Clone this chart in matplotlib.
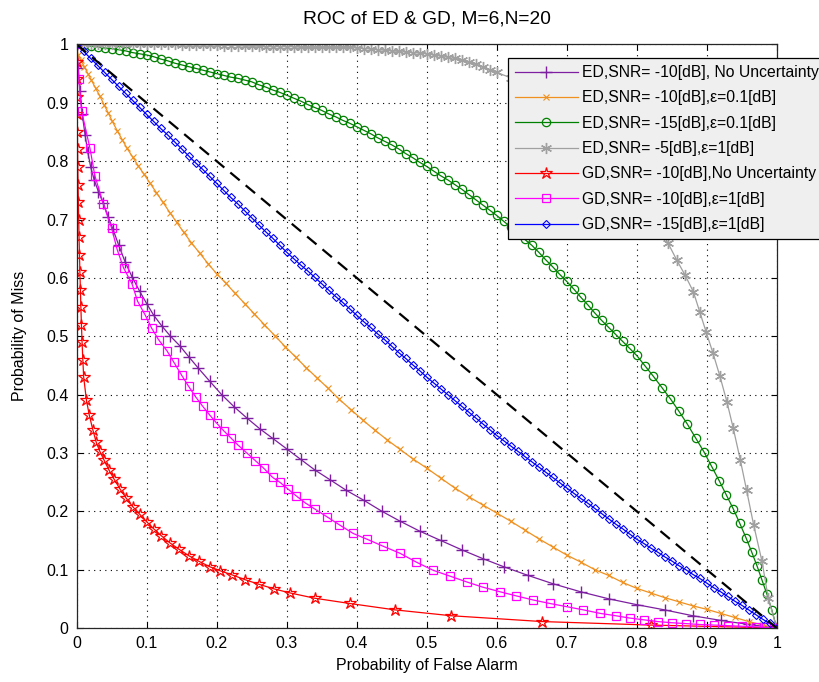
import matplotlib
matplotlib.use("Agg")
import matplotlib.pyplot as plt

plt.rcParams['font.family'] = ['Liberation Sans', 'DejaVu Sans']
plt.rcParams['font.size'] = 11.5

title = "ROC of ED & GD, M=6,N=20"
xlabel = "Probability of False Alarm"
ylabel = "Probability of Miss"
ticks = [0, 0.1, 0.2, 0.3, 0.4, 0.5, 0.6, 0.7, 0.8, 0.9, 1]
tick_labels = ["0", "0.1", "0.2", "0.3", "0.4", "0.5", "0.6", "0.7", "0.8", "0.9", "1"]

labels = [
    "ED,SNR= -10[dB], No Uncertainty",
    "ED,SNR= -10[dB],\u03b5=0.1[dB]",
    "ED,SNR= -15[dB],\u03b5=0.1[dB]",
    "ED,SNR= -5[dB],\u03b5=1[dB]",
    "GD,SNR= -10[dB],No Uncertainty",
    "GD,SNR= -10[dB],\u03b5=1[dB]",
    "GD,SNR= -15[dB],\u03b5=1[dB]",
]

# ED, SNR=-10 dB, no uncertainty (purple +)
ed1_pfa = [0, 0.002, 0.005, 0.008, 0.012, 0.016, 0.02, 0.025, 0.031, 0.038, 0.045, 0.052, 0.06,
           0.069, 0.079, 0.09, 0.1, 0.11, 0.122, 0.134, 0.147, 0.16, 0.174, 0.19, 0.207, 0.225,
           0.243, 0.262, 0.28, 0.3, 0.32, 0.34, 0.362, 0.385, 0.41, 0.436, 0.462, 0.49, 0.52,
           0.55, 0.58, 0.61, 0.645, 0.68, 0.72, 0.76, 0.8, 0.84, 0.88, 0.92, 0.96, 1]
ed1_pm = [1, 0.96, 0.92, 0.88, 0.845, 0.815, 0.79, 0.768, 0.748, 0.728, 0.705, 0.683, 0.656,
          0.628, 0.602, 0.577, 0.556, 0.536, 0.517, 0.5, 0.484, 0.465, 0.445, 0.423, 0.4, 0.379,
          0.36, 0.341, 0.325, 0.307, 0.289, 0.271, 0.254, 0.236, 0.219, 0.2, 0.183, 0.166, 0.15,
          0.134, 0.119, 0.105, 0.09, 0.076, 0.062, 0.05, 0.04, 0.031, 0.021, 0.013, 0.006, 0]

# ED, SNR=-10 dB, eps=0.1 dB (orange x)
ed2_pfa = [0, 0.002, 0.006, 0.011, 0.016, 0.021, 0.027, 0.033, 0.039, 0.045, 0.051, 0.058, 0.065,
           0.072, 0.08, 0.088, 0.096, 0.105, 0.114, 0.123, 0.133, 0.143, 0.153, 0.164, 0.176,
           0.188, 0.2, 0.213, 0.226, 0.24, 0.254, 0.268, 0.283, 0.298, 0.313, 0.328, 0.343, 0.359,
           0.375, 0.392, 0.409, 0.426, 0.444, 0.462, 0.48, 0.5, 0.52, 0.54, 0.56, 0.58, 0.6, 0.62,
           0.64, 0.66, 0.68, 0.7, 0.72, 0.74, 0.76, 0.78, 0.8, 0.82, 0.84, 0.86, 0.88, 0.9, 0.92,
           0.94, 0.96, 0.98, 1]
ed2_pm = [1, 0.982, 0.973, 0.962, 0.95, 0.939, 0.925, 0.912, 0.897, 0.883, 0.868, 0.852, 0.837,
          0.822, 0.807, 0.792, 0.778, 0.762, 0.746, 0.73, 0.712, 0.695, 0.678, 0.66, 0.642,
          0.624, 0.607, 0.591, 0.574, 0.556, 0.538, 0.52, 0.501, 0.482, 0.464, 0.446, 0.429, 0.411,
          0.392, 0.374, 0.356, 0.339, 0.322, 0.306, 0.29, 0.274, 0.257, 0.24, 0.225, 0.211, 0.197,
          0.183, 0.168, 0.153, 0.139, 0.125, 0.113, 0.1, 0.09, 0.078, 0.068, 0.06, 0.052, 0.045,
          0.038, 0.032, 0.025, 0.018, 0.011, 0.005, 0]

# ED, SNR=-15 dB, eps=0.1 dB (green o)
ed3_pfa = [0, 0.01, 0.02, 0.03, 0.04, 0.05, 0.06, 0.07, 0.08, 0.09,
           0.1, 0.11, 0.12, 0.13, 0.14, 0.15, 0.16, 0.17, 0.18, 0.19,
           0.2, 0.21, 0.22, 0.23, 0.24, 0.25, 0.26, 0.27, 0.28, 0.29,
           0.3, 0.31, 0.32, 0.33, 0.34, 0.35, 0.36, 0.37, 0.38, 0.39,
           0.4, 0.41, 0.42, 0.43, 0.44, 0.45, 0.46, 0.47, 0.48, 0.49,
           0.5, 0.51, 0.52, 0.53, 0.54, 0.55, 0.56, 0.57, 0.58, 0.59,
           0.6, 0.61, 0.62, 0.63, 0.64, 0.65, 0.66, 0.67, 0.68, 0.69,
           0.7, 0.71, 0.72, 0.73, 0.74, 0.75, 0.76, 0.77, 0.78, 0.79,
           0.8, 0.812, 0.824, 0.836, 0.848, 0.86, 0.872, 0.884, 0.896, 0.907,
           0.918, 0.928, 0.938, 0.947, 0.956, 0.964, 0.972, 0.979, 0.986, 0.993, 1]
ed3_pm = [1, 0.999, 0.997, 0.996, 0.994, 0.993, 0.991, 0.989, 0.986, 0.984,
          0.982, 0.979, 0.975, 0.972, 0.968, 0.965, 0.962, 0.959, 0.956, 0.953,
          0.95, 0.947, 0.944, 0.942, 0.939, 0.936, 0.931, 0.927, 0.922, 0.918,
          0.913, 0.908, 0.903, 0.897, 0.892, 0.887, 0.881, 0.876, 0.87, 0.865,
          0.859, 0.853, 0.847, 0.84, 0.834, 0.828, 0.821, 0.813, 0.806, 0.798,
          0.791, 0.783, 0.775, 0.768, 0.76, 0.752, 0.743, 0.734, 0.725, 0.716,
          0.707, 0.697, 0.687, 0.676, 0.666, 0.656, 0.644, 0.631, 0.619, 0.606,
          0.594, 0.581, 0.567, 0.554, 0.54, 0.527, 0.515, 0.503, 0.491, 0.479,
          0.467, 0.449, 0.431, 0.412, 0.393, 0.372, 0.35, 0.326, 0.302, 0.277,
          0.252, 0.228, 0.204, 0.18, 0.155, 0.131, 0.106, 0.082, 0.058, 0.031, 0]

# ED, SNR=-5 dB, eps=1 dB (grey *)
ed4_pfa = [0, 0.01, 0.02, 0.03, 0.04, 0.05, 0.06, 0.07, 0.08, 0.09,
           0.1, 0.11, 0.12, 0.13, 0.14, 0.15, 0.16, 0.17, 0.18, 0.19,
           0.2, 0.21, 0.22, 0.23, 0.24, 0.25, 0.26, 0.27, 0.28, 0.29,
           0.3, 0.31, 0.32, 0.33, 0.34, 0.35, 0.36, 0.37, 0.38, 0.39,
           0.4, 0.41, 0.42, 0.43, 0.44, 0.45, 0.46, 0.47, 0.48, 0.49,
           0.5, 0.51, 0.52, 0.53, 0.54, 0.55, 0.56, 0.57, 0.58, 0.59,
           0.6, 0.62, 0.65, 0.68, 0.71, 0.74, 0.77, 0.8, 0.83, 0.845,
           0.857, 0.869, 0.881, 0.89, 0.899, 0.909, 0.919, 0.929, 0.938, 0.948,
           0.957, 0.967, 0.979, 0.988, 1]
ed4_pm = [1, 1, 1, 1, 1, 1, 1, 1, 1, 1,
          1, 1, 1, 1, 1, 0.999, 0.999, 0.999, 0.999, 0.999,
          0.999, 0.998, 0.998, 0.998, 0.997, 0.997, 0.997, 0.996, 0.996, 0.996,
          0.996, 0.996, 0.995, 0.995, 0.995, 0.995, 0.995, 0.995, 0.995, 0.995,
          0.994, 0.993, 0.992, 0.991, 0.99, 0.989, 0.988, 0.987, 0.986, 0.985,
          0.984, 0.982, 0.98, 0.978, 0.976, 0.973, 0.97, 0.966, 0.962, 0.957,
          0.952, 0.943, 0.925, 0.904, 0.875, 0.84, 0.8, 0.745, 0.688, 0.659,
          0.631, 0.605, 0.576, 0.542, 0.508, 0.471, 0.431, 0.387, 0.342, 0.288,
          0.236, 0.177, 0.114, 0.051, 0]

# GD, SNR=-10 dB, no uncertainty (red pentagram)
gd1_pfa = [0, 0.0002, 0.0004, 0.0006, 0.0008, 0.001, 0.0013, 0.0016, 0.002, 0.0024, 0.0029,
           0.0034, 0.004, 0.0046, 0.0053, 0.006, 0.0068, 0.0077, 0.0088, 0.01, 0.014, 0.018,
           0.023, 0.028, 0.033, 0.039, 0.046, 0.053, 0.062, 0.071, 0.08, 0.09, 0.1, 0.11, 0.121,
           0.133, 0.146, 0.16, 0.175, 0.19, 0.205, 0.222, 0.24, 0.26, 0.282, 0.305, 0.34, 0.39,
           0.455, 0.535, 0.665, 0.82, 1]
gd1_pm = [1, 0.97, 0.94, 0.91, 0.88, 0.85, 0.82, 0.79, 0.76, 0.73, 0.7, 0.67, 0.64, 0.61, 0.58,
          0.55, 0.52, 0.49, 0.46, 0.43, 0.39, 0.365, 0.34, 0.318, 0.303, 0.288, 0.271, 0.256,
          0.238, 0.222, 0.208, 0.195, 0.182, 0.17, 0.158, 0.146, 0.135, 0.124, 0.114, 0.105,
          0.098, 0.091, 0.083, 0.075, 0.067, 0.06, 0.051, 0.042, 0.031, 0.021, 0.011, 0.005, 0]

# GD, SNR=-10 dB, eps=1 dB (magenta squares)
gd2_pfa = [0, 0.003, 0.007, 0.019, 0.026, 0.038, 0.05, 0.058, 0.067, 0.079, 0.087, 0.098, 0.107,
           0.117, 0.129, 0.139, 0.15, 0.16, 0.17, 0.18, 0.19, 0.2, 0.21, 0.22, 0.23, 0.243, 0.255,
           0.267, 0.28, 0.29, 0.302, 0.314, 0.327, 0.34, 0.357, 0.375, 0.395, 0.415, 0.438, 0.462,
           0.485, 0.509, 0.533, 0.557, 0.58, 0.605, 0.628, 0.652, 0.676, 0.7, 0.724, 0.748, 0.77,
           0.79, 0.81, 0.83, 0.85, 0.87, 0.89, 0.91, 0.93, 0.95, 0.97, 0.985, 1]
gd2_pm = [1, 0.94, 0.886, 0.822, 0.775, 0.727, 0.685, 0.648, 0.617, 0.59, 0.56, 0.536, 0.514,
          0.494, 0.475, 0.455, 0.433, 0.414, 0.396, 0.38, 0.365, 0.351, 0.338, 0.326, 0.314, 0.3,
          0.287, 0.274, 0.258, 0.25, 0.238, 0.226, 0.214, 0.204, 0.191, 0.177, 0.162, 0.152, 0.14,
          0.128, 0.113, 0.099, 0.089, 0.079, 0.07, 0.062, 0.055, 0.048, 0.042, 0.0365, 0.031,
          0.025, 0.021, 0.017, 0.014, 0.011, 0.009, 0.0075, 0.006, 0.005, 0.004, 0.003, 0.002,
          0.001, 0]

# GD, SNR=-15 dB, eps=1 dB (blue diamonds)
gd3_pfa = [0, 0.01, 0.02, 0.03, 0.04, 0.05, 0.06, 0.07, 0.08, 0.09,
           0.1, 0.11, 0.12, 0.13, 0.14, 0.15, 0.16, 0.17, 0.18, 0.19,
           0.2, 0.21, 0.22, 0.23, 0.24, 0.25, 0.26, 0.27, 0.28, 0.29,
           0.3, 0.31, 0.32, 0.33, 0.34, 0.35, 0.36, 0.37, 0.38, 0.39,
           0.4, 0.41, 0.42, 0.43, 0.44, 0.45, 0.46, 0.47, 0.48, 0.49,
           0.5, 0.51, 0.52, 0.53, 0.54, 0.55, 0.56, 0.57, 0.58, 0.59,
           0.6, 0.61, 0.62, 0.63, 0.64, 0.65, 0.66, 0.67, 0.68, 0.69,
           0.7, 0.71, 0.72, 0.73, 0.74, 0.75, 0.76, 0.77, 0.78, 0.79,
           0.8, 0.81, 0.82, 0.83, 0.84, 0.85, 0.86, 0.87, 0.88, 0.89,
           0.9, 0.91, 0.92, 0.93, 0.94, 0.95, 0.96, 0.97, 0.98, 0.99, 1]
gd3_pm = [1, 0.988, 0.976, 0.964, 0.952, 0.94, 0.928, 0.916, 0.904, 0.892,
          0.88, 0.868, 0.856, 0.845, 0.833, 0.821, 0.809, 0.797, 0.786, 0.774,
          0.762, 0.75, 0.738, 0.727, 0.715, 0.703, 0.691, 0.679, 0.668, 0.656,
          0.644, 0.633, 0.622, 0.612, 0.601, 0.59, 0.579, 0.568, 0.558, 0.547,
          0.536, 0.525, 0.515, 0.504, 0.494, 0.483, 0.472, 0.462, 0.451, 0.441,
          0.43, 0.42, 0.41, 0.4, 0.39, 0.38, 0.37, 0.36, 0.35, 0.34,
          0.33, 0.321, 0.312, 0.303, 0.294, 0.285, 0.276, 0.267, 0.258, 0.249,
          0.24, 0.231, 0.222, 0.214, 0.205, 0.196, 0.187, 0.178, 0.17, 0.161,
          0.152, 0.145, 0.137, 0.13, 0.122, 0.115, 0.107, 0.1, 0.092, 0.085,
          0.077, 0.069, 0.062, 0.054, 0.046, 0.039, 0.031, 0.023, 0.015, 0.008, 0]

# reference diagonal (black dashed)
diag_pfa = [0, 1]
diag_pm = [1, 0]

fig = plt.figure(figsize=(8.2, 6.82), dpi=100)
ax = fig.add_axes([0.0935, 0.0792, 0.8537, 0.8556])

lw = 0.9
ax.plot(ed1_pfa, ed1_pm, color='#7d1fa0', marker='+', ms=8, mew=1.0, lw=lw, label=labels[0])
ax.plot(ed2_pfa, ed2_pm, color='#f0901e', marker='x', ms=5, mew=0.8, lw=lw, label=labels[1])
ax.plot(ed3_pfa, ed3_pm, color='#008000', marker='o', ms=6, mfc='none', mew=0.9, lw=lw, label=labels[2])
ax.plot(ed4_pfa, ed4_pm, color='#a0a0a0', marker=(6, 2, 0), ms=8, mew=1.0, lw=lw, label=labels[3])
ax.plot(gd1_pfa, gd1_pm, color='#ff0000', marker='*', ms=9, mfc='none', mew=0.9, lw=lw, label=labels[4])
ax.plot(gd2_pfa, gd2_pm, color='#ff00ff', marker='s', ms=6, mfc='none', mew=0.9, lw=lw, label=labels[5])
ax.plot(gd3_pfa, gd3_pm, color='#0000ff', marker='D', ms=4, mfc='none', mew=0.8, lw=lw, label=labels[6])
ax.plot(diag_pfa, diag_pm, color='black', lw=1.6, dashes=(5.5, 3.5))

ax.set_xlim(0, 1)
ax.set_ylim(0, 1)
ax.set_xticks(ticks)
ax.set_xticklabels(tick_labels)
ax.set_yticks(ticks)
ax.set_yticklabels(tick_labels)
ax.tick_params(direction='in', length=4, width=0.8, top=True, right=True, pad=6)
ax.grid(True, color='black', lw=0.8, dashes=(1, 4))
for s in ax.spines.values():
    s.set_linewidth(0.9)
    s.set_color('#262626')

ax.set_title(title, pad=15)
ax.set_xlabel(xlabel, labelpad=5)
ax.set_ylabel(ylabel, labelpad=14)

leg = ax.legend(loc='upper left', bbox_to_anchor=(508 / 820, (682 - 58) / 682),
                bbox_transform=fig.transFigure, fancybox=False, shadow=False,
                framealpha=1, facecolor='#efefef', edgecolor='black',
                handlelength=4.0, handletextpad=0.25, labelspacing=0.66,
                borderpad=0.45, borderaxespad=0, fontsize=11.3)
leg.get_frame().set_linewidth(0.9)

fig.savefig("out.png", dpi=100)
